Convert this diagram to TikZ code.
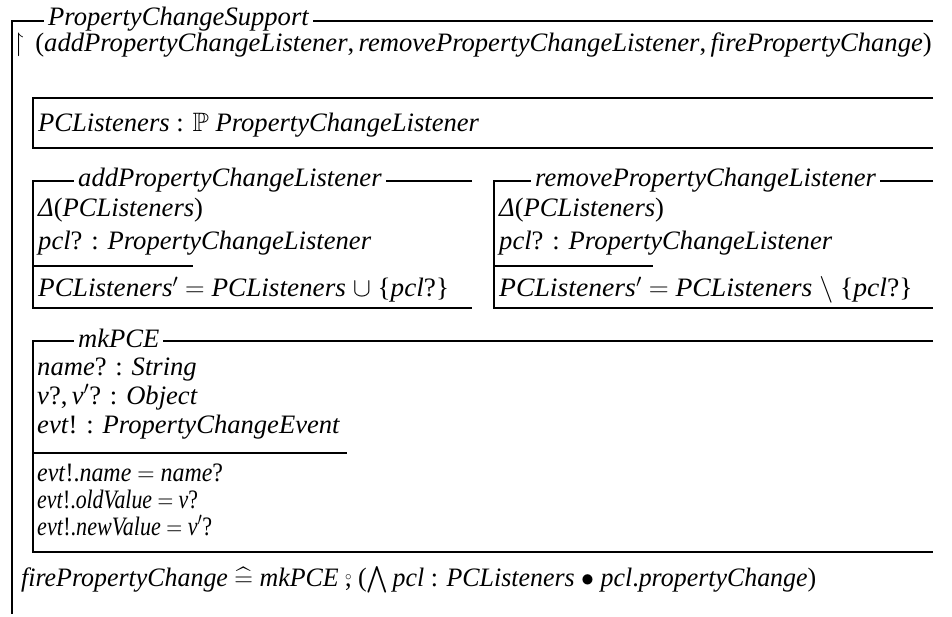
\RequirePackage{fix-cm}
\documentclass[tikz,border=0pt]{standalone}
\usepackage{amsmath,amssymb,graphicx}
\usepackage{fontspec}
\setmainfont{Liberation Serif}
\newcommand\zfont{\fontsize{26.6}{30}\selectfont}
\newcommand\zi[1]{\textit{#1}}
\newcommand\zsemi{\mathbin{\mbox{\ooalign{\hfil\raisebox{0.45ex}{$\scriptscriptstyle\circ$}\hfil\cr\hfil\upshape,\hfil\cr}}}}
\newcommand\zsx[2]{\scalebox{#1}[1]{#2}}
\tikzset{
  zl/.style={line width=2.6pt, line join=miter},
  ztxt/.style={anchor=base west, inner sep=0pt, font=\zfont},
  ztitle/.style={anchor=base west, inner xsep=4pt, inner ysep=0pt, fill=white, font=\zfont\itshape},
}
\begin{document}
\begin{tikzpicture}[x=1pt,y=-1pt]
\useasboundingbox (0,0) rectangle (952,617);
% outer class frame
\draw[zl] (933,21) -- (12,21) -- (12,614);
\node[ztitle] (cls) at (44,26) {PropertyChangeSupport};
\node[ztxt] (vis) at (13,52) {$\upharpoonright$\, (\zi{addPropertyChangeListener},\,\zi{removePropertyChangeListener},\,\zi{firePropertyChange})};
% state schema
\draw[zl] (933,98) -- (33,98) -- (33,148) -- (933,148);
\node[ztxt] (st) at (38,132) {\zi{PCListeners} : $\mathbb{P}$ \zi{PropertyChangeListener}};
% addPropertyChangeListener
\draw[zl] (472,181) -- (33,181) -- (33,308) -- (472,308);
\draw[zl] (33,266) -- (193,266);
\node[ztitle] (addt) at (74,187) {addPropertyChangeListener};
\node[ztxt] (add1) at (38,217) {\zi{Δ}(\zi{PCListeners})};
\node[ztxt] (add2) at (38,250) {\zi{pcl}? : \zi{PropertyChangeListener}};
\node[ztxt] (add3) at (38,297) {\zsx{1.022}{\zi{PCListeners}$'$ $=$ \zi{PCListeners} $\cup$ \{\zi{pcl}?\}}};
% removePropertyChangeListener
\draw[zl] (933,181) -- (494,181) -- (494,308) -- (933,308);
\draw[zl] (494,266) -- (653,266);
\node[ztitle] (remt) at (531,187) {removePropertyChangeListener};
\node[ztxt] (rem1) at (499,217) {\zi{Δ}(\zi{PCListeners})};
\node[ztxt] (rem2) at (499,250) {\zi{pcl}? : \zi{PropertyChangeListener}};
\node[ztxt] (rem3) at (499,297) {\zsx{1.04}{\zi{PCListeners}$'$ $=$ \zi{PCListeners} $\setminus$ \{\zi{pcl}?\}}};
% mkPCE
\draw[zl] (933,341) -- (33,341) -- (33,552) -- (933,552);
\draw[zl] (33,453) -- (347,453);
\node[ztitle] (mkt) at (74,347) {mkPCE};
\node[ztxt] (mk1) at (37,375) {\zi{name}? : \zi{String}};
\node[ztxt] (mk2) at (37,404) {\zi{v}?,\,\zi{v}$'$? : \zi{Object}};
\node[ztxt] (mk3) at (37,433) {\zi{evt}! : \zi{PropertyChangeEvent}};
\node[ztxt] (mk4) at (37,481) {\zsx{0.9}{\zi{evt}!.\zi{name} $=$ \zi{name}?}};
\node[ztxt] (mk5) at (37,508) {\zsx{0.82}{\zi{evt}!.\zi{oldValue} $=$ \zi{v}?}};
\node[ztxt] (mk6) at (37,535) {\zsx{0.83}{\zi{evt}!.\zi{newValue} $=$ \zi{v}$'$?}};
% operation definition
\node[ztxt] (fire) at (21,586) {\zsx{0.974}{\zi{firePropertyChange} $\mathrel{\widehat{=}}$ \zi{mkPCE} $\zsemi$ ($\textstyle\bigwedge$\,\zi{pcl} : \zi{PCListeners} $\bullet$ \zi{pcl}.\zi{propertyChange})}};
\end{tikzpicture}
\end{document}
